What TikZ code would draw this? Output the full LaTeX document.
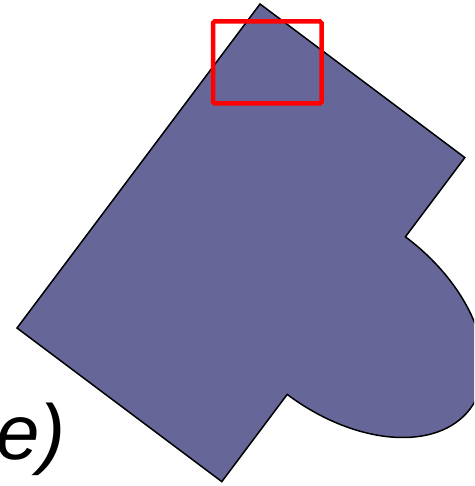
\documentclass[tikz,border=0pt]{standalone}
\usepackage{fontspec}
\setmainfont{Liberation Sans}
\usepackage{tikz}
\usetikzlibrary{positioning, calc}

\definecolor{blobfill}{RGB}{102,102,153}

\begin{document}
\begin{tikzpicture}[
        x=1pt, y=-1pt,
        blob/.style={fill=blobfill, draw=black, line width=1.5pt, line join=miter},
        marker/.style={draw=red, line width=4.5pt, rounded corners=1.5pt},
        caption/.style={font=\fontsize{78}{86}\selectfont\itshape, inner sep=0pt}
    ]
    \path[use as bounding box] (0,0) rectangle (474,486);
    \clip (0,0) rectangle (474,486);

    % tilted shape with the round lobe
    \begin{scope}[shift={(17,328)}, x={(0.8pt,-0.6pt)}, y={(0.6pt,0.8pt)}]
        \coordinate (L) at (0,0);
        \coordinate (T) at (0,405);
        \coordinate (R) at (256,405);
        \coordinate (N) at (256,306);
        \coordinate (M) at (411,207.5);
        \coordinate (K) at (256,109);
        \coordinate (B) at (256,0);
        \draw[blob] (L) -- (T) -- (R) -- (N)
            .. controls (341.6,306) and (411,261.9) .. (M)
            .. controls (411,153.1) and (341.6,109) .. (K)
            -- (B) -- cycle;
    \end{scope}

    % highlight box
    \draw[marker] (213,21.5) rectangle (321.5,103.5);

    \node[caption, anchor=base east] (label) at (66,459) {ne)};
\end{tikzpicture}
\end{document}
